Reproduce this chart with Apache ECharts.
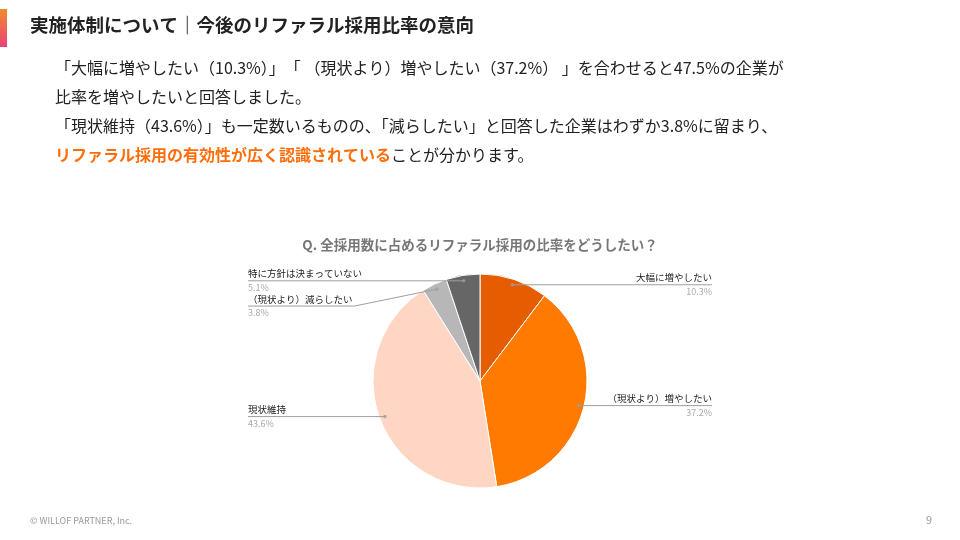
<!DOCTYPE html>
<html>
<head>
<meta charset="utf-8">
<script src="https://cdn.jsdelivr.net/npm/echarts@6/dist/echarts.min.js"></script>
<style>
  html, body { margin: 0; padding: 0; background: #fff; }
  #main { width: 960px; height: 540px; }
</style>
</head>
<body>
<div id="main"></div>
<script>
const FONT = '"Noto Sans CJK JP", "Noto Sans", sans-serif';

// data
const categories = ['大幅に増やしたい', '（現状より）増やしたい', '現状維持', '（現状より）減らしたい', '特に方針は決まっていない'];
const shares = [10.3, 37.2, 43.6, 3.8, 5.1];
const sliceColors = ['#e65c00', '#ff7a00', '#ffd5c3', '#b7b7b7', '#666666'];

const pageTitle = '実施体制について｜今後のリファラル採用比率の意向';
const bodyLines = [
  '「大幅に増やしたい（10.3%）」　「 （現状より）増やしたい（37.2%） 」を合わせると47.5%の企業が',
  '比率を増やしたいと回答しました。',
  '「現状維持（43.6%）」も一定数いるものの、「減らしたい」と回答した企業はわずか3.8%に留まり、',
  '{o|リファラル採用の有効性が広く認識されている}ことが分かります。'
];
const question = 'Q. 全採用数に占めるリファラル採用の比率をどうしたい？';

const PIE_R = 107;
const LABEL_R = 101.5;

let chart = echarts.init(document.getElementById('main'));

let pieData = categories.map(function(c, i) {
  return { name: c, value: shares[i], itemStyle: { color: sliceColors[i] } };
});

// small dots where the leader lines start (mid-angle of every slice)
let total = shares.reduce(function(a, b) { return a + b; }, 0);
let dotData = [];
let acc = 0;
for (let i = 0; i < shares.length; i++) {
  dotData.push([LABEL_R, (acc + shares[i] / 2) / total * 100]);
  acc += shares[i];
}

chart.setOption({
  animation: false,
  textStyle: { fontFamily: FONT },
  title: {
    text: question,
    left: 'center',
    top: 233,
    textStyle: { fontSize: 13.5, fontWeight: 'bold', color: '#777777', fontFamily: FONT }
  },
  polar: { center: ['50%', 381], radius: PIE_R },
  angleAxis: { show: false, min: 0, max: 100, startAngle: 90, clockwise: true },
  radiusAxis: { show: false, min: 0, max: PIE_R },
  graphic: [
    {
      type: 'rect',
      shape: { x: 0, y: 9, width: 7, height: 38 },
      style: {
        fill: new echarts.graphic.LinearGradient(0, 0, 0, 1, [
          { offset: 0, color: '#f38a2c' },
          { offset: 1, color: '#e8437a' }
        ])
      }
    },
    {
      type: 'text',
      left: 30,
      top: 16,
      style: { text: pageTitle, fontSize: 18.5, fontWeight: 'bold', fill: '#222', fontFamily: FONT }
    },
    {
      type: 'text',
      left: 55,
      top: 53,
      style: {
        text: bodyLines.join('\n'),
        fontSize: 16,
        lineHeight: 29,
        fill: '#222',
        fontFamily: FONT,
        rich: {
          o: { fontSize: 16, fontWeight: 'bold', fill: '#ff6d0a', fontFamily: FONT, lineHeight: 29 }
        }
      }
    },
    {
      type: 'text',
      left: 30,
      top: 516,
      style: { text: '© WILLOF PARTNER, Inc.', fontSize: 9, fill: '#999', fontFamily: FONT }
    },
    {
      type: 'text',
      left: 926,
      top: 514,
      style: { text: '9', fontSize: 11, fill: '#999', fontFamily: FONT }
    }
  ],
  series: [{
    // visible slices
    type: 'pie',
    center: ['50%', 381],
    radius: PIE_R,
    startAngle: 90,
    silent: true,
    itemStyle: { borderColor: '#fff', borderWidth: 1 },
    label: { show: false },
    labelLine: { show: false },
    data: pieData
  }, {
    // transparent copy, slightly smaller, only carries the labels
    type: 'pie',
    center: ['50%', 381],
    radius: LABEL_R,
    startAngle: 90,
    silent: true,
    z: 5,
    avoidLabelOverlap: true,
    itemStyle: { color: 'rgba(0,0,0,0)', borderWidth: 0 },
    label: {
      show: true,
      position: 'outer',
      alignTo: 'edge',
      edgeDistance: 248,
      padding: [3, 0, 3, 0],
      formatter: function(p) {
        return '{n|' + p.name + '}\n{p|' + p.value.toFixed(1) + '%}';
      },
      rich: {
        n: { fontSize: 9.5, color: '#222', fontFamily: FONT, lineHeight: 14 },
        p: { fontSize: 9, color: '#aaaaaa', fontFamily: FONT, lineHeight: 14 }
      }
    },
    labelLine: {
      show: true,
      length: 0,
      length2: 4,
      lineStyle: { color: '#9e9e9e', width: 1 }
    },
    labelLayout: function(params) {
      let r = params.labelRect;
      let pts = params.labelLinePoints;
      if (!pts) return {};
      let endY = pts[pts.length - 1][1];
      let onRight = pts[0][0] < r.x;
      let nearX = onRight ? r.x - 2 : r.x + r.width + 2;
      let farX = onRight ? r.x + r.width : r.x;
      return { labelLinePoints: [pts[0], [nearX, endY], [farX, endY]] };
    },
    data: categories.map(function(c, i) {
      return { name: c, value: shares[i] };
    })
  }, {
    type: 'scatter',
    coordinateSystem: 'polar',
    silent: true,
    z: 6,
    symbolSize: 3.5,
    itemStyle: { color: '#9e9e9e' },
    data: dotData
  }]
});
</script>
</body>
</html>
